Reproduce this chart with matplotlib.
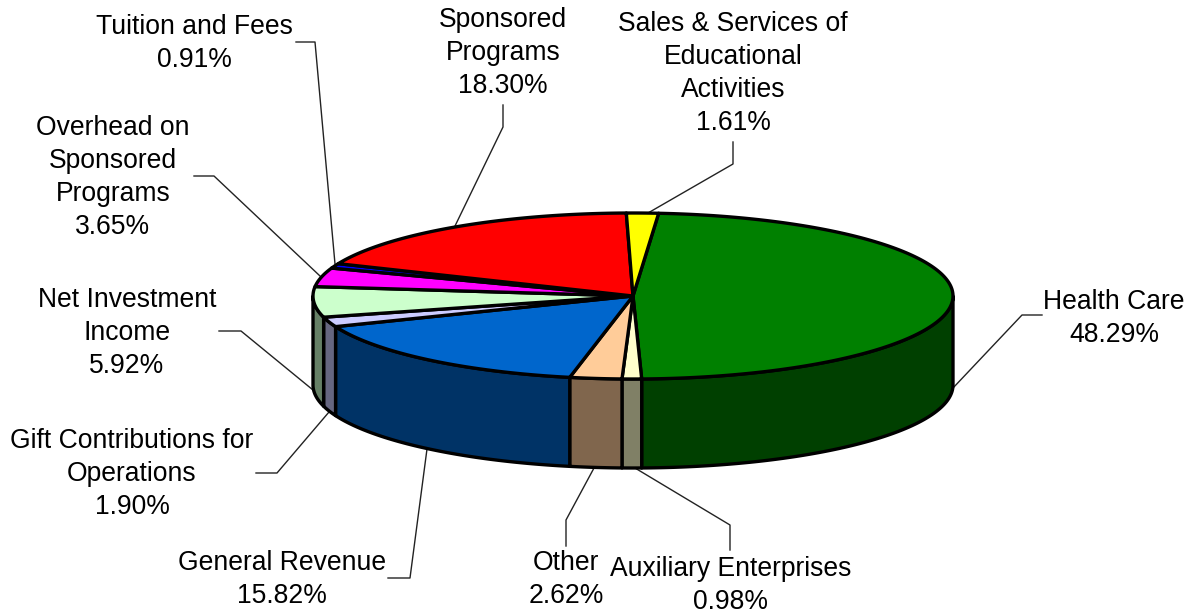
import numpy as np
import matplotlib
matplotlib.use('Agg')
import matplotlib.pyplot as plt

plt.rcParams['font.family'] = ['Liberation Sans', 'DejaVu Sans']

# clockwise starting from Health Care
names = ['Health Care', 'Auxiliary Enterprises', 'Other', 'General Revenue',
         'Gift Contributions for\nOperations', 'Net Investment\nIncome',
         'Overhead on\nSponsored\nPrograms', 'Tuition and Fees',
         'Sponsored\nPrograms', 'Sales & Services of\nEducational\nActivities']
values = [48.29, 0.98, 2.62, 15.82, 1.90, 5.92, 3.65, 0.91, 18.30, 1.61]
top_colors = ['#008000', '#FFFFCC', '#FFCC99', '#0066CC', '#CCCCFF',
              '#CCFFCC', '#FF00FF', '#0000FF', '#FF0000', '#FFFF00']
side_colors = ['#004000', '#808066', '#80664D', '#003366', '#666680',
               '#668066', '#800080', '#000080', '#800000', '#808000']

# label centre x, first line y, and the leader line, in pixels
label_pos = [(1114, 289), (731, 556), (566, 550), (282, 550), (132, 428),
             (127, 287), (113, 115), (194, 14), (503, 7), (733, 11)]
leaders = [
    [(953, 388), (1022, 315), (1042, 315)],
    [(635, 468), (730, 525), (730, 550)],
    [(594, 468), (566, 520), (566, 546)],
    [(427, 449), (410, 578), (388, 578)],
    [(329, 412), (277, 473), (256, 473)],
    [(313, 390), (241, 331), (219, 331)],
    [(320, 276), (214, 176), (194, 176)],
    [(335, 264), (315, 42), (296, 42)],
    [(455, 226), (503, 127), (503, 105)],
    [(648, 213), (733, 164), (733, 142)],
]

cx, cy = 633, 296
rx, ry = 320, 83
depth = 89
start = 4.6

fig = plt.figure(figsize=(11.91, 6.11), dpi=100)
ax = fig.add_axes([0, 0, 1, 1])
ax.set_xlim(0, 1191)
ax.set_ylim(611, 0)
ax.axis('off')


def rim(a0, a1):
    t = np.radians(np.linspace(a0, a1, 200))
    return cx + rx * np.sin(t), cy - ry * np.cos(t)


edges = start + 3.6 * np.concatenate([[0], np.cumsum(values)])

for line in leaders:
    xs, ys = zip(*line)
    ax.plot(xs, ys, color='#222222', lw=1.0, zorder=1)

lw = 2.4
# walls, only the part of each slice facing the viewer
for i in range(len(values)):
    a0 = max(edges[i], 90)
    a1 = min(edges[i + 1], 270)
    if a0 >= a1:
        continue
    x, y = rim(a0, a1)
    px = np.concatenate([x, x[::-1]])
    py = np.concatenate([y, y[::-1] + depth])
    ax.fill(px, py, facecolor=side_colors[i], edgecolor='black', lw=lw,
            joinstyle='round', zorder=2)

# top face
for i in range(len(values)):
    x, y = rim(edges[i], edges[i + 1])
    ax.fill(np.r_[cx, x], np.r_[cy, y], facecolor=top_colors[i],
            edgecolor='black', lw=lw, joinstyle='round', zorder=3)

for i in range(len(values)):
    label = f'{names[i]}\n{values[i]:.2f}%'
    ax.text(label_pos[i][0], label_pos[i][1], label, ha='center', va='top',
            fontsize=19.1, linespacing=1.352, color='black', zorder=4,
            clip_on=False)

fig.savefig('out.png', dpi=100)
